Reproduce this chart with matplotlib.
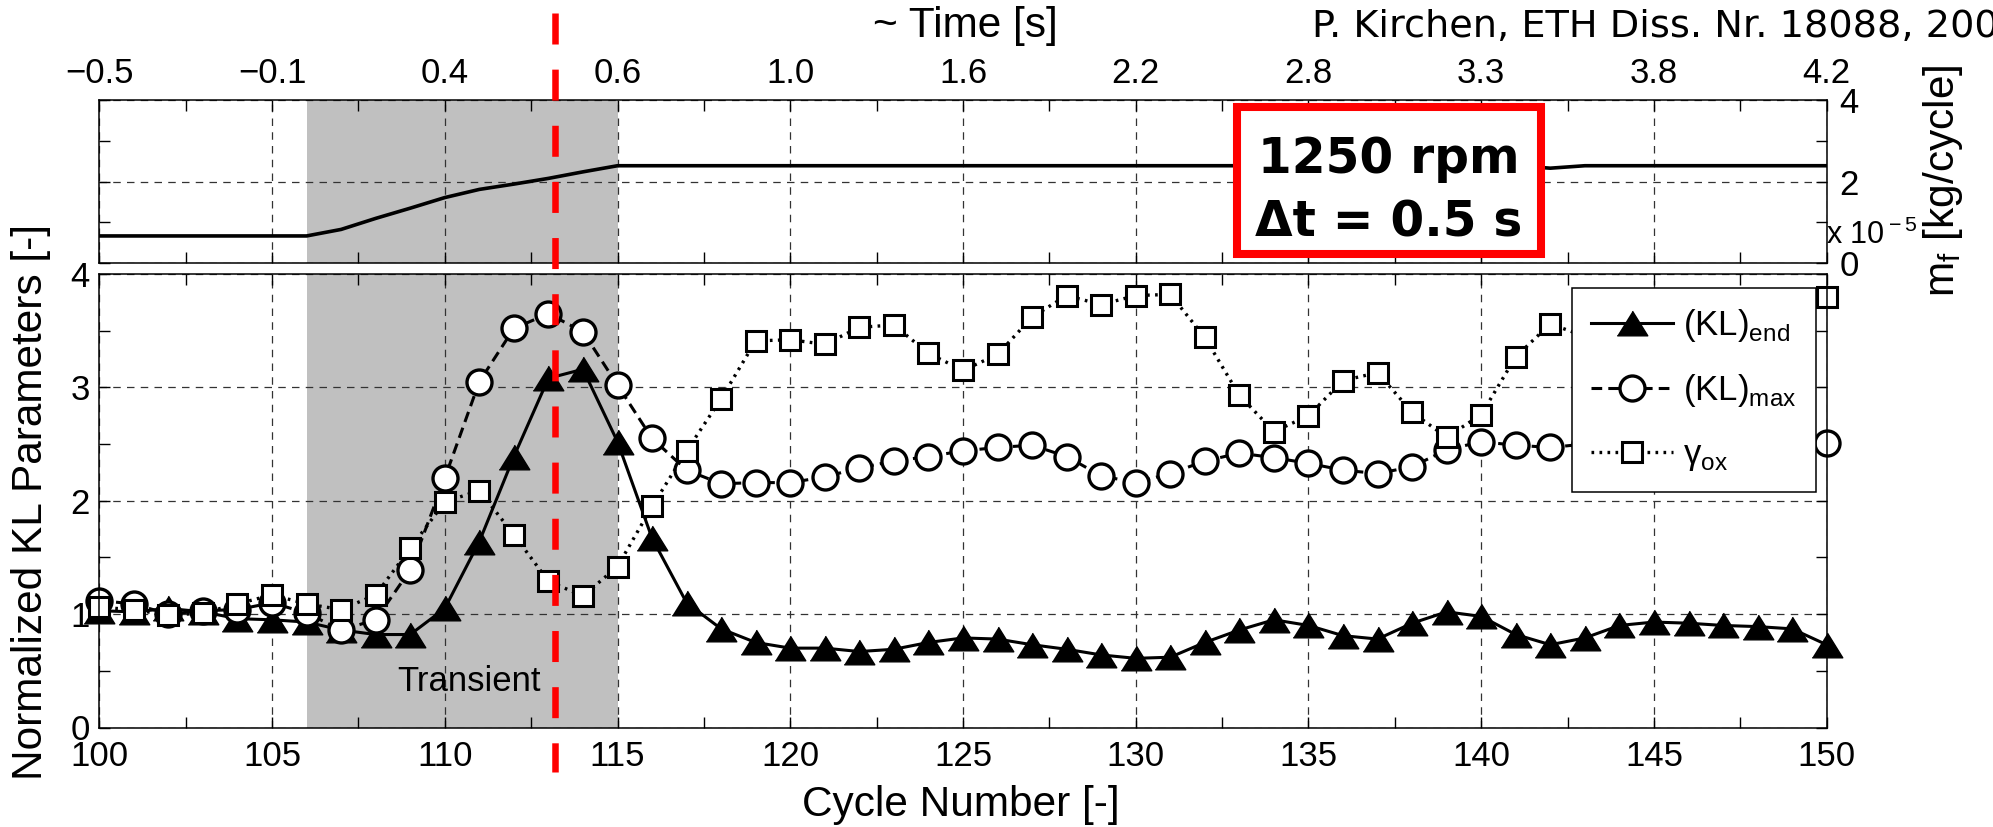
import matplotlib
matplotlib.use('Agg')
import matplotlib.pyplot as plt
import matplotlib.transforms as mtransforms
from matplotlib.lines import Line2D
from matplotlib.patches import Rectangle
from matplotlib.ticker import MultipleLocator

plt.rcParams['font.family'] = ['Liberation Sans', 'DejaVu Sans']
plt.rcParams['mathtext.fontset'] = 'custom'
plt.rcParams['mathtext.rm'] = 'Liberation Sans'

# data
cycles = list(range(100, 151))
kl_end = [1.03, 1.02, 1.05, 1.02, 0.96, 0.95, 0.93, 0.86, 0.82, 0.82,
          1.05, 1.64, 2.39, 3.08, 3.16, 2.52, 1.67, 1.10, 0.87, 0.75,
          0.70, 0.70, 0.67, 0.69, 0.75, 0.79, 0.78, 0.73, 0.69, 0.64,
          0.61, 0.62, 0.75, 0.86, 0.95, 0.90, 0.81, 0.78, 0.92, 1.02,
          0.98, 0.82, 0.73, 0.79, 0.90, 0.93, 0.92, 0.90, 0.89, 0.87,
          0.73]
kl_max = [1.12, 1.09, 1.00, 1.03, 1.04, 1.10, 1.01, 0.86, 0.95, 1.39,
          2.20, 3.05, 3.52, 3.65, 3.49, 3.02, 2.55, 2.27, 2.15, 2.16,
          2.16, 2.21, 2.29, 2.35, 2.39, 2.44, 2.47, 2.49, 2.39, 2.22,
          2.16, 2.24, 2.35, 2.42, 2.38, 2.33, 2.27, 2.24, 2.30, 2.45,
          2.52, 2.49, 2.47, 2.50, 2.50, 2.50, 2.50, 2.50, 2.50, 2.50,
          2.51]
gamma_ox = [1.06, 1.04, 0.99, 1.01, 1.09, 1.17, 1.09, 1.04, 1.17, 1.58,
            1.99, 2.09, 1.70, 1.29, 1.16, 1.42, 1.95, 2.44, 2.90, 3.41,
            3.42, 3.38, 3.53, 3.55, 3.30, 3.15, 3.29, 3.62, 3.81, 3.73,
            3.81, 3.82, 3.44, 2.93, 2.61, 2.75, 3.06, 3.13, 2.78, 2.56,
            2.76, 3.27, 3.56, 3.45, 3.60, 3.70, 3.70, 3.75, 3.75, 3.78,
            3.80]
# fuel mass per cycle, in 1e-5 kg/cycle
m_fuel = [0.67, 0.67, 0.67, 0.67, 0.67, 0.67, 0.67, 0.83, 1.10, 1.35,
          1.61, 1.81, 1.94, 2.08, 2.24, 2.39, 2.39, 2.39, 2.39, 2.39,
          2.39, 2.39, 2.39, 2.39, 2.39, 2.39, 2.39, 2.39, 2.39, 2.39,
          2.39, 2.39, 2.39, 2.39, 2.39, 2.39, 2.39, 2.39, 2.39, 2.39,
          2.39, 2.39, 2.33, 2.39, 2.39, 2.39, 2.39, 2.39, 2.39, 2.39,
          2.39]
time_labels = ['\u22120.5', '\u22120.1', '0.4', '0.6', '1.0', '1.6', '2.2',
               '2.8', '3.3', '3.8', '4.2']
transient = (106, 115)
event_cycle = 113.2

# wide, flat triangle like the original marker
tri = [(-1.24, -1.0), (1.24, -1.0), (0.0, 1.0)]

W, H = 1993, 827
fig = plt.figure(figsize=(W / 100, H / 100), dpi=100)
ax_top = fig.add_axes([99.3 / W, 1 - 263.3 / H, 1727.4 / W, 163.3 / H])
ax_bot = fig.add_axes([99.3 / W, 1 - 727.5 / H, 1727.4 / W, 453.5 / H])

grid_kw = dict(color='0.2', linestyle=(0, (6, 5)), linewidth=0.9)
for ax in (ax_top, ax_bot):
    ax.axvspan(transient[0], transient[1], color='#c0c0c0', zorder=0, lw=0)
    ax.set_axisbelow('line')
    ax.set_xlim(100, 150)
    ax.set_xticks(cycles[::5])
    ax.xaxis.set_minor_locator(MultipleLocator(2.5))
    ax.tick_params(which='both', direction='in', length=8, width=1,
                   top=True, bottom=True, left=True, right=True,
                   labelsize=25)
    ax.grid(True, which='major', **grid_kw)
    for s in ax.spines.values():
        s.set_linewidth(1.1)

# top panel: fuel mass
ax_top.plot(cycles, m_fuel, color='black', lw=2.6)
ax_top.set_ylim(0, 4)
ax_top.set_yticks([0, 2, 4])
ax_top.set_yticks([1, 3], minor=True)
ax_top.set_xticklabels(time_labels)
ax_top.tick_params(axis='x', labelbottom=False, labeltop=True, pad=7)
ax_top.tick_params(axis='y', labelleft=False, labelright=True, pad=9)

# bottom panel: KL parameters
ax_bot.plot(cycles, kl_end, '-', color='black', lw=2.2, marker=tri,
            ms=22, mfc='black', mec='black', clip_on=False,
            label='(KL)$_{\\rm end}$')
ax_bot.plot(cycles, kl_max, color='black', lw=2.2, dashes=(3.5, 2.0),
            marker='o', ms=18, mfc='white', mec='black', mew=2.4,
            clip_on=False, label='(KL)$_{\\rm max}$')
ax_bot.plot(cycles, gamma_ox, color='black', lw=2.4, dashes=(0.8, 1.6),
            marker='s', ms=15, mfc='white', mec='black', mew=2.2,
            clip_on=False, label='\u03b3$_{\\rm ox}$')
ax_bot.set_ylim(0, 4)
ax_bot.yaxis.set_major_locator(MultipleLocator(1))
ax_bot.yaxis.set_minor_locator(MultipleLocator(0.5))
ax_bot.tick_params(axis='x', pad=9)
ax_bot.tick_params(axis='y', pad=7)
ax_bot.text(110.7, 0.41, 'Transient', fontsize=25, ha='center', va='center')

leg = ax_bot.legend(loc='upper right',
                    bbox_to_anchor=((1816 - 99.3) / 1727.4, (727.5 - 287.7) / 453.5),
                    borderaxespad=0, fontsize=25, handlelength=2.35,
                    handletextpad=0.3, labelspacing=0.82, borderpad=0.55,
                    fancybox=False, framealpha=1, edgecolor='black')
leg.get_frame().set_linewidth(1.1)

# labels
fig.text(31 / W, 1 - 502.5 / H, 'Normalized KL Parameters [-]', rotation=90,
         ha='center', va='center', fontsize=30.5)
fig.text(960.5 / W, 1 - 816 / H, 'Cycle Number [-]', ha='center',
         va='baseline', fontsize=30.5)
fig.text(1943 / W, 1 - 181 / H, 'm$_{\\rm f}$ [kg/cycle]', rotation=90,
         ha='center', va='center', fontsize=30.5)
fig.text(1826 / W, 1 - 235 / H, 'x 10$^{\\rm -5}$', ha='left', va='center',
         fontsize=22)
fig.text(965 / W, 1 - 36.7 / H, '~ Time [s]', ha='center', va='baseline',
         fontsize=30.5)
fig.text(1312.5 / W, 1 - 36.7 / H, 'P. Kirchen, ETH Diss. Nr. 18088, 2008',
         ha='left', va='baseline', fontsize=27.5, family='DejaVu Sans')

# operating point box
fig.add_artist(Rectangle((1237 / W, 1 - 254.3 / H), 304 / W, 147.6 / H,
                         transform=fig.transFigure, facecolor='white',
                         edgecolor='#ff0000', lw=5.8, zorder=6))
fig.text(1389 / W, 1 - 173 / H, '1250 rpm', ha='center', va='baseline',
         fontsize=35, fontweight='bold', family='DejaVu Sans', zorder=7)
fig.text(1389 / W, 1 - 236.7 / H, '\u0394t = 0.5 s', ha='center', va='baseline',
         fontsize=35, fontweight='bold', family='DejaVu Sans', zorder=7)

# time of the load step
trans = mtransforms.blended_transform_factory(ax_bot.transData, fig.transFigure)
fig.add_artist(Line2D([event_cycle, event_cycle], [1 - 13 / H, 1 - 772 / H],
                      transform=trans, color='#ff0000', lw=4.7,
                      dashes=(4.75, 3.85), zorder=10))

fig.savefig('out.png', dpi=100)
